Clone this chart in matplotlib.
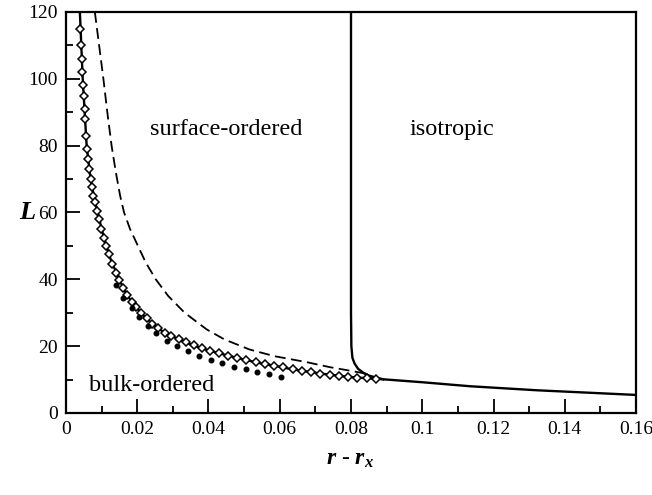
import matplotlib
matplotlib.use("Agg")
import matplotlib.pyplot as plt

plt.rcParams['font.family'] = ['Liberation Serif', 'DejaVu Serif']
plt.rcParams['mathtext.fontset'] = 'custom'
plt.rcParams['mathtext.rm'] = 'Liberation Serif'
plt.rcParams['mathtext.it'] = 'Liberation Serif:italic:bold'
plt.rcParams['mathtext.bf'] = 'Liberation Serif:bold'

# Solid bulk transition line (r - r_x, L)
solid_x = [0.0039, 0.0047, 0.0058, 0.0069, 0.0080, 0.0094, 0.0108, 0.0126, 0.0150, 0.0170,
           0.0190, 0.0217, 0.0245, 0.0273, 0.0311, 0.0348, 0.0385, 0.0432, 0.0479, 0.0507,
           0.0545, 0.0582, 0.0629, 0.0676, 0.0722, 0.0769, 0.0816, 0.0860, 0.0900, 0.1000,
           0.1134, 0.1321, 0.1600]
solid_L = [120, 100, 80, 70, 64, 57.7, 51.8, 45.8, 39.8, 35.5,
           32.5, 29.2, 26.4, 24.3, 22.3, 20.6, 19.2, 17.8, 16.5, 15.8,
           14.9, 14.2, 13.2, 12.4, 11.7, 11.1, 10.6, 10.3, 10.0, 9.2,
           8.0, 6.8, 5.4]

# Solid surface transition branch (near-vertical at r - r_x = 0.08)
branch_x = [0.0800, 0.0800, 0.0801, 0.0804, 0.0810, 0.0820, 0.0835, 0.0850, 0.0870, 0.0890]
branch_L = [120, 30, 20, 16.5, 14.8, 13.2, 12.0, 11.2, 10.6, 10.1]

# Dashed line
dash_x = [0.0081, 0.0093, 0.0105, 0.0116, 0.0128, 0.0140, 0.0152, 0.0163, 0.0180, 0.0202,
          0.0224, 0.0252, 0.0287, 0.0333, 0.0395, 0.0445, 0.0515, 0.0585, 0.0676, 0.0741,
          0.0800, 0.0850]
dash_L = [120, 110, 100, 90, 80, 72, 65, 60, 55, 50,
          45, 40, 35, 30, 25, 22, 19, 17, 15.2, 13.7,
          12.6, 11.6]

# Diamond data points
diam_x = [0.0040, 0.0042, 0.0044, 0.0046, 0.0048, 0.0050, 0.0052, 0.0054, 0.0057, 0.0060,
          0.0063, 0.0066, 0.0069, 0.0073, 0.0077, 0.0082, 0.0087, 0.0093, 0.0099, 0.0106,
          0.0113, 0.0121, 0.0130, 0.0140, 0.0150, 0.0161, 0.0172, 0.0184, 0.0197, 0.0211,
          0.0226, 0.0242, 0.0259, 0.0277, 0.0296, 0.0316, 0.0337, 0.0359, 0.0382, 0.0405,
          0.0430, 0.0455, 0.0480, 0.0506, 0.0532, 0.0558, 0.0584, 0.0610, 0.0636, 0.0662,
          0.0688, 0.0714, 0.0740, 0.0766, 0.0792, 0.0818, 0.0844, 0.0870]
diam_L = [115, 110, 106, 102, 98, 95, 91, 88, 83, 79,
          76, 73, 70, 67.5, 65, 63, 60.5, 58, 55, 52.5,
          50, 47.5, 44.5, 42, 39.8, 37.3, 35.2, 33.3, 31.6, 29.9,
          28.3, 26.7, 25.3, 24.0, 23.0, 22.0, 21.1, 20.2, 19.3, 18.6,
          17.9, 17.1, 16.5, 15.8, 15.2, 14.7, 14.2, 13.7, 13.1, 12.7,
          12.2, 11.8, 11.5, 11.1, 10.9, 10.6, 10.4, 10.2]

# Dotted series
dot_x = [0.0140, 0.0161, 0.0184, 0.0206, 0.0229, 0.0254, 0.0283, 0.0311, 0.0343, 0.0374,
         0.0406, 0.0439, 0.0472, 0.0504, 0.0536, 0.0571, 0.0604]
dot_L = [38.3, 34.3, 31.3, 28.6, 26.0, 23.8, 21.6, 20.0, 18.5, 17.2,
         15.9, 14.9, 13.9, 13.1, 12.4, 11.7, 10.9]

xticks = [0, 0.02, 0.04, 0.06, 0.08, 0.1, 0.12, 0.14, 0.16]
xticklabels = ['0', '0.02', '0.04', '0.06', '0.08', '0.1', '0.12', '0.14', '0.16']
yticks = [0, 20, 40, 60, 80, 100, 120]

fig = plt.figure(figsize=(6.52, 4.95), dpi=100)
ax = fig.add_axes([0.1012, 0.1657, 0.8743, 0.8101])

ax.plot(solid_x, solid_L, color='black', lw=1.7)
ax.plot(branch_x, branch_L, color='black', lw=1.7)
ax.plot(dash_x, dash_L, color='black', lw=1.3, dashes=(6, 3))
ax.plot(diam_x, diam_L, linestyle='none', marker='D', markersize=3.8,
        markerfacecolor='white', markeredgecolor='black', markeredgewidth=1.1)
ax.plot(dot_x, dot_L, linestyle='none', marker='o', markersize=3.3, color='black')

ax.text(0.0449, 84.7, 'surface-ordered', ha='center', va='center', fontsize=17.5)
ax.text(0.1083, 84.7, 'isotropic', ha='center', va='center', fontsize=17.5)
ax.text(0.0241, 8.1, 'bulk-ordered', ha='center', va='center', fontsize=17.5)

ax.set_xlim(0, 0.16)
ax.set_ylim(0, 120)
ax.set_xticks(xticks)
ax.set_xticklabels(xticklabels)
ax.set_yticks(yticks)
ax.set_xticks([0.01, 0.03, 0.05, 0.07, 0.09, 0.11, 0.13, 0.15], minor=True)
ax.set_yticks([10, 30, 50, 70, 90, 110], minor=True)
ax.tick_params(which='major', direction='in', length=10, width=1.3, labelsize=14, pad=6)
ax.tick_params(which='minor', direction='in', length=5, width=1.3)
ax.tick_params(top=False, right=False)
for s in ax.spines.values():
    s.set_linewidth(1.6)

ax.set_xlabel(r'$r$ - $r_x$', fontsize=17, va='center')
ax.set_ylabel(r'$L$', fontsize=19, rotation=0, va='center', ha='center')
ax.xaxis.set_label_coords(0.498, -0.117)
ax.yaxis.set_label_coords(-0.0667, 0.4988)

fig.savefig('out.png', dpi=100)
